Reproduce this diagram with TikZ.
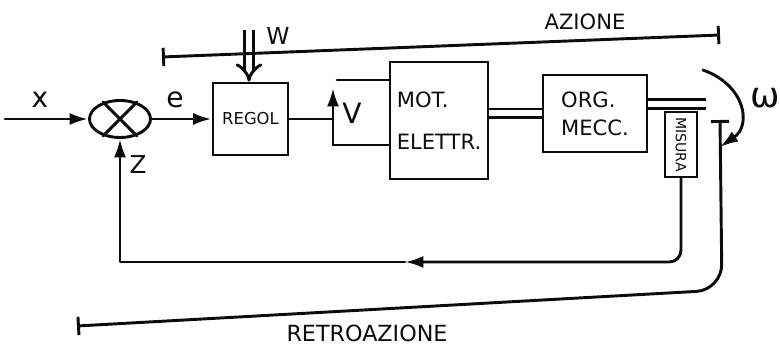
\documentclass[tikz,border=0pt]{standalone}
\usepackage{fontspec}
\setmainfont{DejaVu Sans}
\usetikzlibrary{arrows.meta,shapes.geometric}
\definecolor{pencil}{RGB}{12,12,12}
\tikzset{
  >={Latex[length=5.5mm,width=3.6mm]},
  pen/.style={draw=pencil,line width=2.5pt,line cap=round,line join=round},
  sig/.style={pen,->},
  block/.style={draw=pencil,line width=2.5pt,inner sep=0pt,align=left,text=pencil,
    font=\fontsize{#1}{#1}\selectfont},
  block/.default=18,
  summer/.style={ellipse,draw=pencil,line width=2.5pt,minimum width=1.83cm,
    minimum height=1.11cm,inner sep=0pt},
  shaft/.style={draw=pencil,line width=2.5pt,double=white,double distance=0.18cm},
  spanline/.style={pen,{Bar[width=5.5mm]}-{Bar[width=5.5mm]}},
  lbl/.style={text=pencil,inner sep=0pt,font=\fontsize{#1}{#1}\selectfont},
  lbl/.default=18,
}

\begin{document}
\begin{tikzpicture}[x=0.03cm,y=-0.03cm]
  \useasboundingbox (0,0) rectangle (780,347);

  % blocks
  \node[summer] (sum) at (120,119) {};
  \draw[pen] (sum.45) -- (sum.225) (sum.135) -- (sum.315);
  \node[block=14,minimum width=2.25cm,minimum height=2.16cm] (regol) at (250.5,119) {REGOL};
  \node[block,minimum width=2.94cm,minimum height=3.51cm,
    font=\fontsize{18}{36}\selectfont] (mot) at (439,120.5) {MOT.\\ELETTR.};
  \node[block,minimum width=3.12cm,minimum height=2.31cm,
    font=\fontsize{18}{24}\selectfont] (org) at (595,113.5) {ORG.\\MECC.};
  \node[block=12,minimum width=0.96cm,minimum height=1.95cm] (mis) at (681,144.5) {};
  \node[lbl=12,rotate=-90] (mistext) at (mis.center) {MISURA};

  % signals
  \coordinate (xin) at (5,119);
  \coordinate (wtop) at (249,30);
  \coordinate (vlow) at (333,145);
  \coordinate (vhigh) at (333,88);
  \coordinate (vtop) at (337,80);
  \coordinate (shaftend) at (706,104);
  \draw[sig] (xin) -- (sum.west);
  \draw[sig] (sum.east) -- (regol.west);
  \draw[shaft,-{Implies}] (wtop) -- (wtop |- regol.north);
  \draw[pen] (regol.east) -- (regol.east -| vlow);
  \draw[sig] (vlow) -- (vhigh);
  \draw[pen] (vtop) -- (vtop -| mot.west);
  \draw[pen] (vlow) -- (vlow -| mot.west);
  \draw[shaft] (org.west -| mot.east) -- (org.west);
  \draw[shaft] (shaftend -| org.east) -- (shaftend);

  % feedback loop
  \coordinate (fbmid) at (405,262);
  \draw[sig,rounded corners=10pt] (mis.south) |- (fbmid);
  \draw[sig] (fbmid) -| (sum.south);

  % speed
  \coordinate (omstart) at (703,70);
  \coordinate (omend) at (720,147);
  \draw[sig] (omstart) .. controls (745,85) and (752,125) .. (omend);

  % action / feedback spans
  \coordinate (azleft) at (162,57);
  \coordinate (azright) at (720,35);
  \draw[spanline] (azleft) -- (azright);
  \coordinate (rtop) at (720,120);
  \coordinate (rbend) at (722,290);
  \coordinate (rleft) at (77,326);
  \draw[spanline,rounded corners=22pt] (rtop) -- (rbend) -- (rleft);

  % labels
  \node[lbl=24] (xlab) at (40,100) {x};
  \node[lbl=24] (elab) at (175,100) {e};
  \node[lbl=21] (zlab) at (138,165) {Z};
  \node[lbl=24] (vlab) at (352,113) {V};
  \node[lbl=20] (wlab) at (278,36) {W};
  \node[lbl=30] (omlab) at (765,98) {ω};
  \node[lbl] (azlab) at (585,22) {AZIONE};
  \node[lbl=19] (retrolab) at (367,333) {RETROAZIONE};
\end{tikzpicture}
\end{document}
